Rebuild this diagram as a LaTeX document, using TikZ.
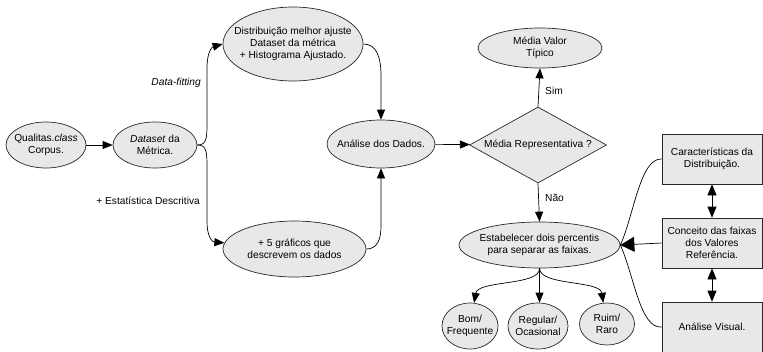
\documentclass[tikz,border=0pt]{standalone}
\usepackage{fontspec}
\setmainfont{Liberation Sans}
\usetikzlibrary{shapes.geometric,arrows.meta}
\definecolor{cfill}{RGB}{232,232,232}
\definecolor{cline}{RGB}{40,40,40}
\tikzset{
  txt/.style={font=\fontsize{10.2}{12}\selectfont,inner sep=0pt,align=center},
  ell/.style={ellipse,draw=cline,fill=cfill,line width=0.7pt,inner sep=0pt},
  boxn/.style={rectangle,draw=cline,fill=cfill,line width=0.7pt,inner sep=0pt,align=center,minimum width=100pt,minimum height=50pt,font=\fontsize{10.2}{12}\selectfont},
  dia/.style={diamond,draw=cline,fill=cfill,line width=0.7pt,inner sep=0pt,shape aspect=1.8,minimum width=137pt,minimum height=76pt},
  lbl/.style={font=\fontsize{10.2}{12}\selectfont,inner sep=0pt},
  conn/.style={line width=0.7pt,draw=black,-{Triangle[length=10pt,width=8pt]}},
  plain/.style={line width=0.7pt,draw=black},
  dbl/.style={line width=0.7pt,draw=black,{Triangle[length=11pt,width=9pt]}-{Triangle[length=11pt,width=9pt]}},
  big/.style={line width=0.7pt,draw=black,-{Triangle[length=14pt,width=15pt]}}
}
\begin{document}
\begin{tikzpicture}[x=1pt,y=-1pt]
\path[use as bounding box,clip] (0,0) rectangle (763,351);
% nodes
\node[ell,minimum width=80pt,minimum height=46pt,label={[txt]center:{Qualitas.\textit{class}\\Corpus.}}] (q) at (46,145) {};
\node[ell,minimum width=84pt,minimum height=46pt,label={[txt]center:{\textit{Dataset} da\\Métrica.}}] (ds) at (155,145) {};
\node[ell,minimum width=140pt,minimum height=74pt,label={[txt]center:{Distribuição melhor ajuste\\Dataset da métrica\\+ Histograma Ajustado.}}] (dist) at (293,44) {};
\node[ell,minimum width=143pt,minimum height=56pt,label={[txt]center:{+ 5 gráficos que\\descrevem os dados}}] (graf) at (294.5,249) {};
\node[ell,minimum width=108pt,minimum height=48pt,label={[txt]center:{Análise dos Dados.}}] (ana) at (381,144) {};
\node[dia,label={[txt]center:{Média Representativa ?}}] (rep) at (538,145) {};
\node[ell,minimum width=124pt,minimum height=40pt,label={[txt]center:{Média Valor\\Típico}}] (med) at (540,48) {};
\node[ell,minimum width=161pt,minimum height=46pt,label={[txt]center:{Estabelecer dois percentis\\para separar as faixas.}}] (est) at (539.5,245) {};
\node[ell,minimum width=56pt,minimum height=46pt,label={[txt]center:{Bom/\\Frequente}}] (bom) at (470,326) {};
\node[ell,minimum width=60pt,minimum height=46pt,label={[txt]center:{Regular/\\Ocasional}}] (reg) at (538,326) {};
\node[ell,minimum width=55pt,minimum height=42pt,label={[txt]center:{Ruim/\\Raro}}] (ruim) at (607,324) {};
\node[boxn] (car) at (712,159) {Características da\\Distribuição.};
\node[boxn] (conc) at (712,243) {Conceito das faixas\\dos Valores\\Referência.};
\node[boxn] (vis) at (712,327) {Análise Visual.};
% labels
\node[lbl,anchor=east] (lfit) at (201,83) {\textit{Data-fitting}};
\node[lbl,anchor=east] (lest) at (200,201) {+ Estatística Descritiva};
\node[lbl,anchor=west] (lsim) at (545,91) {Sim};
\node[lbl,anchor=west] (lnao) at (545,198) {Não};
% connectors
\draw[conn] (q) -- (ds);
\draw[conn] (ds.east) .. controls (207,145) and (207,138) .. (207,120) -- (207,68) .. controls (207,52) and (212,47) .. (dist.west);
\draw[conn] (ds.east) .. controls (207,145) and (207,152) .. (207,170) -- (207,222) .. controls (207,236) and (212,242) .. (graf.175);
\draw[conn] (dist.east) .. controls (376,44) and (381,56) .. (381,76) -- (ana.north);
\draw[conn] (graf.east) .. controls (377,249) and (381,240) .. (381,226) -- (ana.south);
\draw[conn] (ana) -- (rep);
\draw[conn] (rep.north) -- (med.south);
\draw[conn] (rep.south) -- (est.north);
\draw[conn] (est.south) .. controls (540,286) and (478,280) .. (bom.80);
\draw[conn] (est.south) -- (est.south |- reg.north);
\draw[conn] (est.south) .. controls (540,286) and (600,280) .. (ruim.100);
\draw[plain] (car.west) .. controls (640,158) and (634,215) .. (est.east);
\draw[plain] (vis.west) .. controls (640,329) and (634,275) .. (est.east);
\draw[big] (conc.west) -- (est.east);
\draw[dbl] (car.south) -- (conc.north);
\draw[dbl] (conc.south) -- (vis.north);
\end{tikzpicture}
\end{document}
